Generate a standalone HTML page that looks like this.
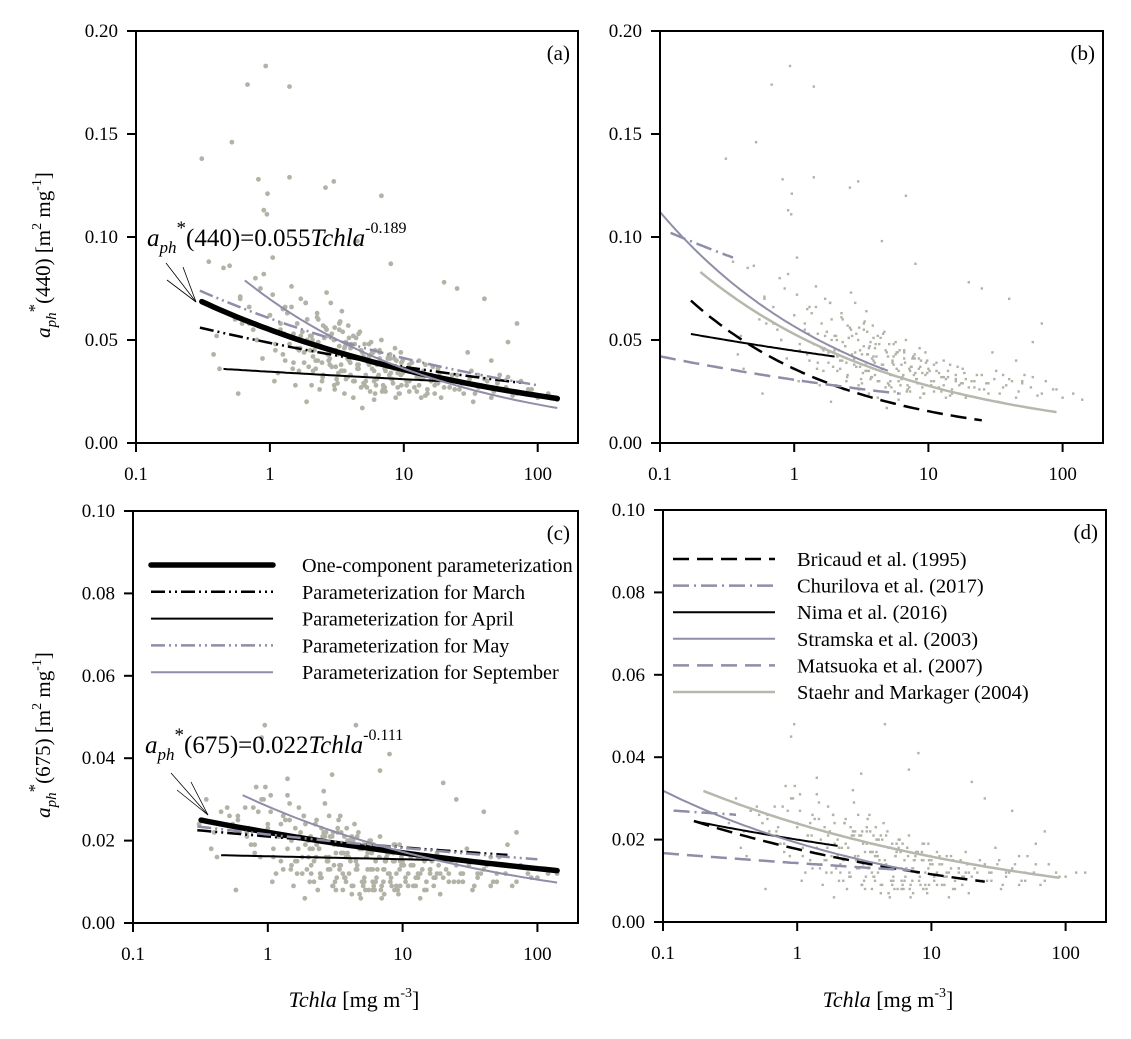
<!DOCTYPE html>
<html><head><meta charset="utf-8">
<style>
html,body{margin:0;padding:0;background:#fff;}
svg{display:block;font-family:"Liberation Serif",serif;}
</style></head>
<body>
<svg id="fig" width="1131" height="1039" viewBox="0 0 1131 1039" xmlns="http://www.w3.org/2000/svg"></svg>
<script>
// ---- data ----
const xTicks = [0.1, 1, 10, 100];
const xTickLabels = ["0.1", "1", "10", "100"];
const yTicksTop = [0, 0.05, 0.10, 0.15, 0.20];
const yTickLabelsTop = ["0.00", "0.05", "0.10", "0.15", "0.20"];
const yTicksBottom = [0, 0.02, 0.04, 0.06, 0.08, 0.10];
const yTickLabelsBottom = ["0.00", "0.02", "0.04", "0.06", "0.08", "0.10"];

// samples: Tchla, aph*(440), aph*(675)
const tchla1 = [0.31,0.52,0.68,0.93,1.4,0.82,1.4,3.0,6.8,0.96,2.6,0.9,0.95,4.5,8,20,25,70,0.35,0.5,0.45,0.4,0.38,0.55,0.6,0.7,0.75,0.8,0.85,1.0,1.1,1.2,1.3,1.5,1.6,1.7,1.8,1.9,2.0,2.1,2.2,2.3,2.4,2.5,2.7,2.8,2.9,3.1,3.2,3.3,3.4,3.5,3.6,3.7,3.8,3.9,4.0,4.2,4.4,4.6,4.8,5.0,5.2,5.4,5.6,5.8,6.0,6.3,6.6,7.0,7.4,7.8,8.3,8.8,9.3,9.8,10.5,11,12,13,14,15,16,17,18,19,21,23,26,28,31,34,38,42,47,52,58,65,75,85,100,120,140,0.42,0.62,0.78,1.05,1.25,1.45,1.65,1.85,2.05,2.25,2.45,2.65,2.85,3.05,3.25,3.45,3.65,3.85,4.1,4.3,4.7,5.1,5.5,5.9,6.2,6.8,7.2,7.6,8.1,8.6,9.0,9.6,11.5,12.5,13.5,16.5,18.5,22,27,33,40,50,60,1.15,1.35,1.55,1.75,1.95,2.15,2.35,2.55,2.75,3.15,3.35,3.55,3.75,4.05,4.5,5.3,5.7,6.5,7.3,8.5,9.5,10.2,14.5,17.5,24,30,36,45,0.58,0.72,0.88,1.08,1.28,1.48,1.68,1.88,2.08,2.28,2.48,3.02,3.48,3.98,4.9,6.1,7.9,11.8,15.5,20.5,29];
const a440_1 = [0.138,0.146,0.174,0.183,0.173,0.128,0.129,0.127,0.120,0.121,0.124,0.113,0.111,0.098,0.087,0.078,0.075,0.058,0.088,0.086,0.085,0.052,0.043,0.060,0.071,0.066,0.055,0.050,0.075,0.062,0.048,0.058,0.040,0.053,0.046,0.070,0.039,0.050,0.045,0.042,0.036,0.060,0.047,0.033,0.052,0.041,0.037,0.045,0.029,0.055,0.038,0.043,0.035,0.049,0.032,0.040,0.046,0.030,0.051,0.036,0.027,0.042,0.033,0.039,0.025,0.044,0.035,0.031,0.041,0.026,0.037,0.033,0.029,0.040,0.024,0.034,0.030,0.038,0.027,0.032,0.035,0.024,0.031,0.028,0.036,0.022,0.030,0.033,0.026,0.029,0.031,0.024,0.028,0.030,0.025,0.033,0.027,0.023,0.030,0.026,0.022,0.024,0.021,0.036,0.058,0.080,0.090,0.065,0.076,0.045,0.068,0.052,0.061,0.039,0.073,0.044,0.056,0.034,0.064,0.047,0.057,0.042,0.030,0.054,0.048,0.038,0.044,0.028,0.050,0.036,0.041,0.031,0.046,0.034,0.028,0.039,0.032,0.022,0.037,0.034,0.027,0.029,0.020,0.070,0.030,0.049,0.034,0.063,0.028,0.054,0.037,0.045,0.026,0.051,0.040,0.031,0.059,0.043,0.032,0.048,0.038,0.027,0.043,0.033,0.025,0.036,0.044,0.035,0.023,0.029,0.026,0.044,0.033,0.040,0.024,0.058,0.041,0.030,0.053,0.036,0.046,0.020,0.050,0.040,0.032,0.028,0.035,0.039,0.017,0.024,0.041];
const a675_1 = [0.024,0.026,0.028,0.030,0.031,0.033,0.035,0.036,0.037,0.033,0.032,0.045,0.048,0.048,0.041,0.034,0.030,0.022,0.030,0.028,0.027,0.022,0.018,0.024,0.026,0.021,0.019,0.017,0.027,0.023,0.016,0.021,0.013,0.020,0.015,0.028,0.012,0.019,0.016,0.014,0.010,0.025,0.018,0.011,0.022,0.015,0.013,0.019,0.008,0.023,0.014,0.017,0.012,0.021,0.010,0.016,0.020,0.009,0.024,0.013,0.007,0.018,0.011,0.016,0.008,0.020,0.013,0.010,0.018,0.006,0.015,0.012,0.009,0.019,0.007,0.014,0.010,0.017,0.009,0.012,0.016,0.008,0.013,0.011,0.017,0.007,0.013,0.015,0.010,0.012,0.014,0.009,0.012,0.014,0.010,0.016,0.012,0.009,0.014,0.012,0.011,0.012,0.012,0.016,0.022,0.028,0.031,0.024,0.029,0.015,0.026,0.018,0.024,0.012,0.029,0.016,0.022,0.011,0.026,0.017,0.023,0.015,0.009,0.022,0.019,0.013,0.017,0.008,0.021,0.013,0.016,0.010,0.019,0.012,0.009,0.016,0.011,0.006,0.015,0.014,0.010,0.012,0.008,0.027,0.010,0.019,0.012,0.025,0.009,0.022,0.013,0.018,0.008,0.021,0.015,0.010,0.025,0.017,0.011,0.020,0.015,0.008,0.018,0.013,0.007,0.015,0.019,0.014,0.008,0.011,0.010,0.018,0.012,0.016,0.008,0.023,0.016,0.010,0.021,0.013,0.018,0.006,0.021,0.016,0.011,0.009,0.014,0.016,0.006,0.009,0.017];
const tchla2 = [1.0,1.2,1.4,1.6,1.8,2.0,2.2,2.4,2.6,2.8, 3.0,3.2,3.4,3.6,3.8,4.0,4.3,4.6,4.9,5.2, 5.5,5.8,6.1,6.4,6.7,7.0,7.5,8.0,8.5,9.0, 9.5,10,11,12,13,14,15,16,18,20, 1.1,1.3,1.5,1.7,1.9,2.1,2.3,2.5,2.7,2.9, 3.1,3.3,3.5,3.7,3.9,4.2,4.5,4.8,5.1,5.4, 5.7,6.0,6.3,6.6,6.9,7.3,7.7,8.2,8.7,9.2, 9.8,10.5,11.5,12.5,13.5,14.5,16,17,19,22, 0.6,0.7,0.8,0.9,1.05,1.25,1.45,1.65,1.85,2.05, 2.25,2.45,2.65,2.85,3.05,3.3,3.6,3.9,4.2,4.6, 5.0,5.5,6.0,6.6,7.2,7.9,8.7,9.6,11,13, 25,28,32,36,40,45,50,60,70,90];
const a440_2 = [.062,.055,.048,.058,.044,.052,.040,.047,.056,.038, .050,.043,.035,.046,.041,.033,.048,.038,.044,.030, .042,.036,.045,.032,.039,.028,.037,.034,.041,.027, .033,.036,.030,.034,.028,.032,.026,.030,.029,.027, .045,.066,.039,.052,.060,.035,.049,.057,.043,.053, .037,.047,.054,.031,.042,.052,.036,.045,.028,.040, .049,.030,.038,.044,.025,.035,.042,.031,.037,.024, .040,.028,.035,.025,.031,.038,.033,.024,.031,.030, .070,.058,.050,.082,.072,.043,.066,.035,.068,.028, .063,.030,.055,.068,.026,.058,.024,.051,.022,.053, .029,.048,.021,.045,.027,.043,.022,.039,.025,.040, .033,.024,.035,.027,.031,.022,.029,.032,.024,.026];
const a675_2 = [.024,.021,.018,.023,.016,.020,.015,.018,.022,.013, .021,.017,.013,.019,.016,.012,.020,.014,.018,.010, .017,.013,.019,.011,.016,.009,.015,.012,.017,.009, .013,.015,.012,.014,.011,.013,.010,.012,.012,.011, .018,.026,.014,.021,.024,.012,.019,.023,.016,.021, .014,.019,.022,.011,.017,.021,.013,.018,.009,.016, .020,.010,.015,.018,.008,.013,.017,.011,.015,.008, .016,.011,.014,.009,.012,.015,.013,.009,.012,.012, .025,.022,.019,.030,.027,.015,.025,.012,.026,.010, .024,.011,.021,.026,.009,.022,.008,.020,.007,.021, .010,.019,.008,.018,.010,.017,.008,.015,.009,.016, .014,.010,.015,.011,.013,.009,.012,.014,.010,.011];

// power-law curves: coefficient, exponent, x range
const curveA = {one:[0.055,-0.189,0.31,140], march:[0.0486,-0.118,0.3,80], april:[0.0346,-0.048,0.45,20], may:[0.0605,-0.167,0.3,100], sept:[0.0698,-0.286,0.65,140]};
const curveB = {bricaud:[0.036,-0.368,0.17,25], churilova:[0.0796,-0.117,0.12,0.35], nima:[0.0448,-0.094,0.17,2], stramska:[0.0566,-0.297,0.1,5], matsuoka:[0.0307,-0.137,0.1,6], staehr:[0.0529,-0.28,0.2,90]};
const curveC = {one:[0.022,-0.111,0.32,140], march:[0.021,-0.0586,0.3,60], april:[0.0162,-0.02,0.45,40], may:[0.0215,-0.0716,0.3,100], sept:[0.0283,-0.2145,0.65,140]};
const curveD = {bricaud:[0.0177,-0.184,0.17,25], churilova:[0.0251,-0.035,0.12,0.35], nima:[0.02,-0.114,0.17,2], stramska:[0.0192,-0.22,0.1,7], matsuoka:[0.0143,-0.068,0.1,7], staehr:[0.0239,-0.178,0.2,90]};

const PURP = "#8e8ea8", GRAY = "#b7b7ad", DOT = "#b2b2a6";
const styles = {
  one:{c:"#000",w:5.5,d:null}, march:{c:"#000",w:2.5,d:"14,4,2,4,2,4"}, april:{c:"#000",w:2,d:null},
  may:{c:PURP,w:2.5,d:"14,4,2,4,2,4"}, sept:{c:PURP,w:2,d:null},
  bricaud:{c:"#000",w:2.5,d:"16,8"}, churilova:{c:PURP,w:2.5,d:"16,5,2,5"}, nima:{c:"#000",w:2,d:null},
  stramska:{c:PURP,w:2,d:null}, matsuoka:{c:PURP,w:2.5,d:"16,8"}, staehr:{c:GRAY,w:2.5,d:null}
};

const NS = "http://www.w3.org/2000/svg";
const svg = document.getElementById("fig");
function mk(tag, attrs, parent){ const e=document.createElementNS(NS,tag); for(const k in attrs) e.setAttribute(k,attrs[k]); (parent||svg).appendChild(e); return e; }

const sets440 = [[tchla1,a440_1],[tchla2,a440_2]];
const sets675 = [[tchla1,a675_1],[tchla2,a675_2]];

const panels = [
  {id:"a", L:136, R:578, T:31, B:443, ymax:0.20, yt:yTicksTop, yl:yTickLabelsTop, sets:sets440, curves:curveA, dots:"circle"},
  {id:"b", L:660, R:1103, T:31, B:443, ymax:0.20, yt:yTicksTop, yl:yTickLabelsTop, sets:sets440, curves:curveB, dots:"square"},
  {id:"c", L:133, R:578, T:511, B:923, ymax:0.10, yt:yTicksBottom, yl:yTickLabelsBottom, sets:sets675, curves:curveC, dots:"circle"},
  {id:"d", L:663, R:1106, T:510, B:922, ymax:0.10, yt:yTicksBottom, yl:yTickLabelsBottom, sets:sets675, curves:curveD, dots:"square"}
];

panels.forEach(p=>{
  const g = mk("g",{});
  
  
  const dec = (p.R-p.L)/Math.log10(2000);
  const sx = v => p.L + (Math.log10(v)+1)*dec;
  const sy = v => p.B - v/p.ymax*(p.B-p.T);
  const sg = mk("g",{fill:DOT},g);
  
  
  p.sets.forEach(([xs,ys])=>{
    const n=Math.min(xs.length,ys.length);
    for(let i=0;i<n;i++){
      const x=sx(xs[i]), y=sy(ys[i]);
      if(!isFinite(x)||!isFinite(y)||y<p.T) continue;
      let e;
      if(p.dots==="circle") e=mk("circle",{cx:x.toFixed(1),cy:y.toFixed(1),r:2.4},sg);
      else e=mk("rect",{x:(x-1.2).toFixed(1),y:(y-1.2).toFixed(1),width:2.4,height:2.4},sg);
      
      
    }
  });
  for(const k in p.curves){
    const [A,Bx,x0,x1]=p.curves[k]; const st=styles[k];
    let d="";
    for(let j=0;j<=60;j++){ const lx=Math.log10(x0)+(Math.log10(x1)-Math.log10(x0))*j/60; const xv=Math.pow(10,lx); d+=(j?"L":"M")+sx(xv).toFixed(1)+" "+sy(A*Math.pow(xv,Bx)).toFixed(1); }
    const e=mk("path",{d:d,fill:"none",stroke:st.c,"stroke-width":st.w,"stroke-linecap":k==="one"?"round":"butt"},g);
    if(st.d) e.setAttribute("stroke-dasharray",st.d);
    
    
  }
  const fr=mk("rect",{x:p.L,y:p.T,width:p.R-p.L,height:p.B-p.T,fill:"none",stroke:"#000","stroke-width":2},g);
  
  
  xTicks.forEach((t,i)=>{
    const x=sx(t);
    mk("line",{x1:x,y1:p.B,x2:x,y2:p.B+9,stroke:"#000","stroke-width":2},g);
    const tx=mk("text",{x:x,y:p.B+37,"font-size":19,"text-anchor":"middle"},g);
    tx.textContent=xTickLabels[i];
    
    
  });
  p.yt.forEach((t,i)=>{
    const y=sy(t);
    mk("line",{x1:p.L-9,y1:y,x2:p.L,y2:y,stroke:"#000","stroke-width":2},g);
    const tx=mk("text",{x:p.L-18,y:y+6,"font-size":19,"text-anchor":"end"},g);
    tx.textContent=p.yl[i];
    
    
  });
  const lb=mk("text",{x:p.R-8,y:p.T+29,"font-size":21,"text-anchor":"end"},g);
  lb.textContent="("+p.id+")";
  
  
});

const legC = [["one","One-component parameterization"],["march","Parameterization for March"],["april","Parameterization for April"],["may","Parameterization for May"],["sept","Parameterization for September"]];
const legD = [["bricaud","Bricaud et al. (1995)"],["churilova","Churilova et al. (2017)"],["nima","Nima et al. (2016)"],["stramska","Stramska et al. (2003)"],["matsuoka","Matsuoka et al. (2007)"],["staehr","Staehr and Markager (2004)"]];
function legend(items,x0,x1,tx,y0,dy,fs,name){
  const g=mk("g",{});
  
  
  items.forEach((it,i)=>{
    const st=styles[it[0]]; const y=y0+i*dy;
    const l=mk("line",{x1:x0,y1:y,x2:x1,y2:y,stroke:st.c,"stroke-width":st.w,"stroke-linecap":it[0]==="one"?"round":"butt"},g);
    if(st.d) l.setAttribute("stroke-dasharray",st.d);
    
    
    const t=mk("text",{x:tx,y:y+7,"font-size":fs},g);
    t.textContent=it[1];
    
    
  });
}
legend(legC,151,273,302,565,26.8,20.2,"legend-c");
legend(legD,673,775,797,559,26.6,20.5,"legend-d");
</script>
<script>
(function(){
const NS="http://www.w3.org/2000/svg", svg=document.getElementById("fig");
function add(html){ const g=document.createElementNS(NS,"g"); g.innerHTML=html; svg.appendChild(g); }
add(`<g>
<text x="147" y="246" font-size="25"><tspan font-style="italic">a</tspan><tspan font-style="italic" font-size="17" dy="7">ph</tspan><tspan font-size="19" dy="-19">*</tspan><tspan dy="12">(440)=0.055</tspan><tspan font-style="italic">Tchla</tspan><tspan font-size="16" dy="-13">-0.189</tspan></text>
<line x1="166" y1="263" x2="196" y2="302" stroke="#000" stroke-width="0.8"/><line x1="167" y1="280" x2="196" y2="302" stroke="#000" stroke-width="0.8"/><line x1="183" y1="267" x2="196" y2="302" stroke="#000" stroke-width="0.8"/></g>
<g>
<text x="145" y="753" font-size="25"><tspan font-style="italic">a</tspan><tspan font-style="italic" font-size="17" dy="7">ph</tspan><tspan font-size="19" dy="-19">*</tspan><tspan dy="12">(675)=0.022</tspan><tspan font-style="italic">Tchla</tspan><tspan font-size="16" dy="-13">-0.111</tspan></text>
<line x1="171" y1="773" x2="208" y2="815" stroke="#000" stroke-width="0.8"/><line x1="177" y1="790" x2="208" y2="815" stroke="#000" stroke-width="0.8"/><line x1="191" y1="782" x2="208" y2="815" stroke="#000" stroke-width="0.8"/></g>
<text transform="translate(50,255) rotate(-90)" text-anchor="middle" font-size="21"><tspan font-style="italic">a</tspan><tspan font-style="italic" font-size="15" dy="6">ph</tspan><tspan font-size="17" dy="-16">*</tspan><tspan dy="10">(440) [m</tspan><tspan font-size="14" dy="-9">2</tspan><tspan dy="9"> mg</tspan><tspan font-size="14" dy="-9">-1</tspan><tspan dy="9">]</tspan></text>
<text transform="translate(50,735) rotate(-90)" text-anchor="middle" font-size="21"><tspan font-style="italic">a</tspan><tspan font-style="italic" font-size="15" dy="6">ph</tspan><tspan font-size="17" dy="-16">*</tspan><tspan dy="10">(675) [m</tspan><tspan font-size="14" dy="-9">2</tspan><tspan dy="9"> mg</tspan><tspan font-size="14" dy="-9">-1</tspan><tspan dy="9">]</tspan></text>
<text x="354" y="1007" text-anchor="middle" font-size="22"><tspan font-style="italic">Tchla</tspan> [mg m<tspan font-size="14" dy="-10">-3</tspan><tspan dy="10">]</tspan></text>
<text x="888" y="1007" text-anchor="middle" font-size="22"><tspan font-style="italic">Tchla</tspan> [mg m<tspan font-size="14" dy="-10">-3</tspan><tspan dy="10">]</tspan></text>`);
})();
</script>
</body></html>
